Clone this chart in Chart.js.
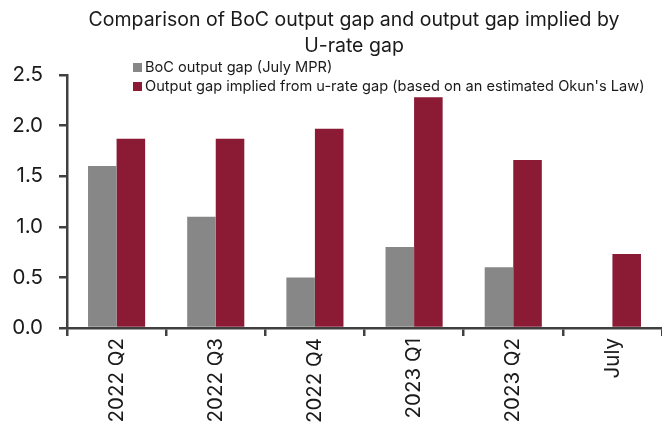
<!DOCTYPE html>
<html>
<head>
<meta charset="utf-8">
<script src="https://cdn.jsdelivr.net/npm/chart.js@4"></script>
<style>
  body { margin: 0; background: #fff; }
  #wrap { position: relative; width: 662px; height: 427px; font-family: Inter, sans-serif; }
  #title { position: absolute; left: 46px; width: 616px; top: 6px; text-align: center; font-size: 19.5px; line-height: 26px; color: #1a1a1a; }
  #legend { position: absolute; left: 133px; top: 58px; font-size: 14.6px; line-height: 19px; color: #1a1a1a; white-space: nowrap; }
  #legend span.box { display: inline-block; width: 9px; height: 9px; margin-right: 3px; }
</style>
</head>
<body>
<div id="wrap">
  <canvas id="myChart" width="662" height="427"></canvas>
  <div id="title">Comparison of BoC output gap and output gap implied by<br>U-rate gap</div>
  <div id="legend"></div>
</div>
<script>
'use strict';

// data
let categories = ['2022 Q2', '2022 Q3', '2022 Q4', '2023 Q1', '2023 Q2', 'July'];
let bocGap = [1.6, 1.1, 0.5, 0.8, 0.6, null];
let okunGap = [1.87, 1.87, 1.97, 2.28, 1.66, 0.73];
let seriesNames = ['BoC output gap (July MPR)', 'Output gap implied from u-rate gap (based on an estimated Okun\'s Law)'];
let seriesColors = ['#878787', '#8b1a35'];
let yTicks = [0, 0.5, 1, 1.5, 2, 2.5];

let axisColor = '#404040';
let tickFont = { family: 'Inter', size: 20.5 };

// html legend
let legend = document.getElementById('legend');
for (let i = 0; i < seriesNames.length; i++) {
  let row = document.createElement('div');
  row.innerHTML = `<span class="box" style="background:${seriesColors[i]}"></span>${seriesNames[i]}`;
  legend.appendChild(row);
}

let ctx = document.getElementById('myChart').getContext('2d');
let myChart = new Chart(ctx, {
  type: 'bar',
  data: {
    labels: categories,
    datasets: [
      { label: seriesNames[0], data: bocGap, backgroundColor: seriesColors[0] },
      { label: seriesNames[1], data: okunGap, backgroundColor: seriesColors[1] }
    ]
  },
  options: {
    responsive: false,
    animation: false,
    layout: { padding: { top: 75, right: 0, left: 0, bottom: 0 } },
    datasets: { bar: { categoryPercentage: 0.576, barPercentage: 1 } },
    plugins: {
      legend: { display: false },
      title: { display: false },
      tooltip: { enabled: false }
    },
    scales: {
      x: {
        grid: { display: true, drawOnChartArea: false, color: axisColor, tickLength: 8, lineWidth: 2.5, offset: true },
        border: { color: axisColor, width: 2.5 },
        ticks: { color: '#1a1a1a', font: tickFont, minRotation: 90, maxRotation: 90, padding: 2 },
        afterFit: function (axis) { axis.height = 99; }
      },
      y: {
        min: 0,
        max: 2.5,
        grid: { display: true, drawOnChartArea: false, color: axisColor, tickLength: 8, lineWidth: 2.5 },
        border: { color: axisColor, width: 2.5 },
        afterBuildTicks: function (axis) { axis.ticks = yTicks.map(v => ({ value: v })); },
        ticks: { color: '#1a1a1a', font: tickFont, padding: 16, callback: v => v.toFixed(1) },
        afterFit: function (axis) { axis.width = 67; }
      }
    }
  }
});
</script>
</body>
</html>
